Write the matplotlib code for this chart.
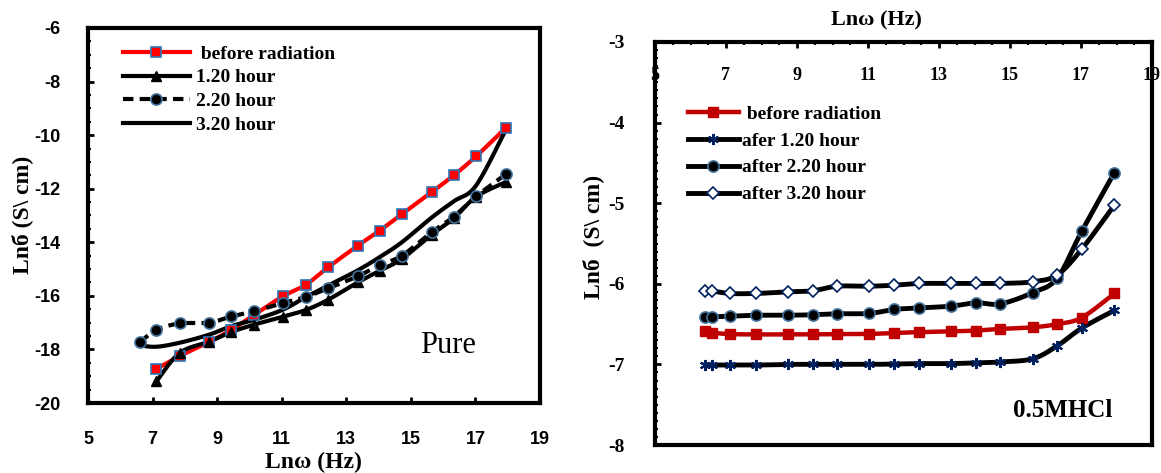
import numpy as np
import matplotlib
matplotlib.use("Agg")
import matplotlib.pyplot as plt
from matplotlib.lines import Line2D

plt.rcParams["axes.unicode_minus"] = False

# ---------------- data ----------------
ln_w = [6.42, 6.61, 7.12, 7.84, 8.75, 9.44, 10.13, 11.03, 11.74, 12.43,
        13.35, 14.04, 14.72, 15.64, 16.33, 17.02, 17.94]

# Left panel (Pure)
pure_before = [-18.72, -18.25, -17.72, -17.27, -16.72, -16.02, -15.59, -14.94,
               -14.13, -13.56, -12.95, -12.13, -11.50, -10.79, -9.73]      # from 7.12
pure_h120 = [-19.19, -18.13, -17.71, -17.35, -17.08, -16.78, -16.53, -16.15,
             -15.50, -15.06, -14.62, -13.72, -13.10, -12.30, -11.75]       # from 7.12
pure_h220 = [-17.73, -17.27, -17.03, -17.00, -16.77, -16.58, -16.27, -16.04,
             -15.72, -15.27, -14.85, -14.50, -13.63, -13.04, -12.29, -11.46]  # from 6.61
pure_h320 = [-17.85, -17.90, -17.75, -17.45, -17.13, -16.90, -16.52, -16.05,
             -15.62, -15.05, -14.55, -14.00, -13.08, -12.47, -11.88, -9.80]   # from 6.61

# Right panel (0.5M HCl)
hcl_before = [-6.587, -6.607, -6.624, -6.628, -6.628, -6.628, -6.624, -6.622, -6.610,
              -6.600, -6.590, -6.580, -6.560, -6.540, -6.500, -6.420, -6.120]
hcl_h120 = [-7.008, -7.008, -7.008, -7.008, -7.000, -7.000, -7.000, -7.000, -6.996,
            -6.990, -6.990, -6.980, -6.970, -6.930, -6.770, -6.550, -6.330]
hcl_h220 = [-6.410, -6.410, -6.400, -6.390, -6.390, -6.384, -6.372, -6.368, -6.318,
            -6.300, -6.277, -6.235, -6.250, -6.110, -5.930, -5.350, -4.620]
hcl_h320 = [-6.090, -6.090, -6.120, -6.120, -6.100, -6.087, -6.030, -6.030, -6.017,
            -5.996, -5.996, -5.996, -5.996, -5.975, -5.890, -5.570, -5.025]

left_xticks = [5, 7, 9, 11, 13, 15, 17, 19]
left_yticks = [-20, -18, -16, -14, -12, -10, -8, -6]
right_xticks = [5, 7, 9, 11, 13, 15, 17, 19]
right_yticks = [-8, -7, -6, -5, -4, -3]

labels_left = [" before radiation", "1.20 hour", "2.20 hour", "3.20 hour"]
labels_right = [" before radiation", "afer 1.20 hour", "after 2.20 hour", "after 3.20 hour"]

SERIF = "Liberation Serif"
SANS = "Liberation Sans"


def smooth(x, y, n=16):
    """Catmull-Rom curve through the points (Excel-like smoothed line)."""
    p = np.column_stack([x, y]).astype(float)
    p = np.vstack([p[0], p, p[-1]])
    out = []
    t = np.linspace(0, 1, n, endpoint=False)[:, None]
    for i in range(1, len(p) - 2):
        p0, p1, p2, p3 = p[i - 1], p[i], p[i + 1], p[i + 2]
        c = 0.5 * ((2 * p1) + (-p0 + p2) * t + (2 * p0 - 5 * p1 + 4 * p2 - p3) * t ** 2
                   + (-p0 + 3 * p1 - 3 * p2 + p3) * t ** 3)
        out.append(c)
    out.append(p[-2][None, :])
    out = np.vstack(out)
    return out[:, 0], out[:, 1]


fig = plt.figure(figsize=(11.61, 4.73), dpi=100)

# ---------------- left panel ----------------
axL = fig.add_axes([88 / 1161, 1 - 403 / 473, 452 / 1161, 375 / 473])
xL2 = ln_w[1:]
xL3 = ln_w[2:]

sx, sy = smooth(xL3, pure_before)
axL.plot(sx, sy, color="#ff0000", lw=3, zorder=3)
axL.plot(xL3, pure_before, ls="none", marker="s", ms=6.5, mfc="#ff0000",
         mec="#2e75b6", mew=1.2, zorder=4)

sx, sy = smooth(xL3, pure_h120)
axL.plot(sx, sy, color="black", lw=3, zorder=3)
axL.plot(xL3, pure_h120, ls="none", marker="^", ms=7.5, color="black", zorder=4)

sx, sy = smooth(xL2, pure_h220)
axL.plot(sx, sy, color="black", lw=3, ls=(0, (2.5, 1.5)), zorder=3)
axL.plot(xL2, pure_h220, ls="none", marker="o", ms=8, mfc="black",
         mec="#41719c", mew=1.2, zorder=4)

sx, sy = smooth(xL2, pure_h320)
axL.plot(sx, sy, color="black", lw=3, zorder=3)

axL.set_xlim(5, 19)
axL.set_ylim(-20, -6)
axL.set_xticks(left_xticks)
axL.set_yticks(left_yticks)
axL.set_yticks(np.arange(-20, -5.9, 0.5), minor=True)
axL.tick_params(axis="both", which="major", direction="in", length=4, width=2,
                labelsize=13, pad=20)
axL.tick_params(axis="x", pad=20)
axL.tick_params(axis="y", which="minor", direction="in", length=2, width=1.5)
axL.tick_params(axis="x", which="minor", bottom=False)
for lab in axL.get_xticklabels() + axL.get_yticklabels():
    lab.set_fontfamily(SANS)
    lab.set_fontweight("bold")
for s in axL.spines.values():
    s.set_linewidth(3)

hL = [Line2D([], [], color="#ff0000", lw=3, marker="s", ms=6.5, mfc="#ff0000",
             mec="#2e75b6", mew=1.2),
      Line2D([], [], color="black", lw=3, marker="^", ms=7.5),
      Line2D([], [], color="black", lw=3, ls=(0, (2.5, 1.5)), marker="o", ms=8,
             mfc="black", mec="#41719c", mew=1.2),
      Line2D([], [], color="black", lw=3)]
legL = axL.legend(hL, labels_left, loc="upper left",
                  bbox_to_anchor=((122.7 - 88) / 452, (403 - 45) / 375),
                  frameon=False, borderpad=0, borderaxespad=0, handlelength=3.45,
                  handletextpad=0.3, labelspacing=0.32,
                  prop={"family": SERIF, "weight": "bold", "size": 14})

fig.text(448 / 1161, 1 - 345 / 473, "Pure", ha="center", va="center",
         family=SERIF, fontsize=22)

fig.text(313 / 1161, 1 - 462 / 473, "Lnω (Hz)", ha="center", va="center",
         family=SERIF, weight="bold", fontsize=17)
fig.text(22 / 1161, 1 - 215 / 473, "Lnб (S\\ cm)", ha="center", va="center",
         rotation=90, family=SERIF, weight="bold", fontsize=17)

# ---------------- right panel ----------------
axR = fig.add_axes([655 / 1161, 1 - 445 / 473, 497 / 1161, 403 / 473])

sx, sy = smooth(ln_w, hcl_before)
axR.plot(sx, sy, color="#c00000", lw=3.2, zorder=3)
axR.plot(ln_w, hcl_before, ls="none", marker="s", ms=6.5, color="#c00000", zorder=4)

sx, sy = smooth(ln_w, hcl_h120)
axR.plot(sx, sy, color="black", lw=3.5, zorder=3)
axR.plot(ln_w, hcl_h120, ls="none", marker=(6, 2, 0), ms=8, color="#002060",
         mew=1.5, zorder=4)

sx, sy = smooth(ln_w, hcl_h220)
axR.plot(sx, sy, color="black", lw=3.5, zorder=3)
axR.plot(ln_w, hcl_h220, ls="none", marker="o", ms=8, mfc="black",
         mec="#41719c", mew=1.2, zorder=4)

sx, sy = smooth(ln_w, hcl_h320)
axR.plot(sx, sy, color="black", lw=3.5, zorder=3)
axR.plot(ln_w, hcl_h320, ls="none", marker="D", ms=6, mfc="white",
         mec="#002060", mew=1.2, zorder=4)

axR.set_xlim(5, 19)
axR.set_ylim(-8, -3)
axR.set_xticks(right_xticks)
axR.set_yticks(right_yticks)
axR.set_yticks(np.arange(-8, -2.95, 0.1), minor=True)
axR.set_xticks(np.arange(5, 19.01, 0.5), minor=True)
axR.xaxis.tick_top()
axR.tick_params(axis="x", which="major", direction="in", length=4, width=2,
                labelsize=13, pad=-30)
axR.tick_params(axis="x", which="minor", direction="in", length=2, width=1.5)
axR.tick_params(axis="y", which="major", direction="in", length=4, width=2,
                labelsize=14, pad=22)
axR.tick_params(axis="y", which="minor", direction="in", length=2, width=1.5)
for lab in axR.get_xticklabels() + axR.get_yticklabels():
    lab.set_fontfamily(SERIF)
    lab.set_fontweight("bold")
for s in axR.spines.values():
    s.set_linewidth(3)

hR = [Line2D([], [], color="#c00000", lw=3.2, marker="s", ms=6.5),
      Line2D([], [], color="black", lw=3.5, marker=(6, 2, 0), ms=8, mec="#002060", mew=1.5),
      Line2D([], [], color="black", lw=3.5, marker="o", ms=8, mfc="black",
             mec="#41719c", mew=1.2),
      Line2D([], [], color="black", lw=3.5, marker="D", ms=6, mfc="white",
             mec="#002060", mew=1.2)]
legR = axR.legend(hR, labels_right, loc="upper left",
                  bbox_to_anchor=((688 - 655) / 497, (445 - 105) / 403),
                  frameon=False, borderpad=0, borderaxespad=0, handlelength=2.6,
                  handletextpad=0.2, labelspacing=0.48,
                  prop={"family": SERIF, "weight": "bold", "size": 14})

fig.text(1063 / 1161, 1 - 410 / 473, "0.5MHCl", ha="center", va="center",
         family=SERIF, weight="bold", fontsize=18)
fig.text(876 / 1161, 1 - 20 / 473, "Lnω (Hz)", ha="center", va="center",
         family=SERIF, weight="bold", fontsize=16)
fig.text(593 / 1161, 1 - 237 / 473, "Lnб  (S\\ cm)", ha="center", va="center",
         rotation=90, family=SERIF, weight="bold", fontsize=17)

fig.savefig("out.png", dpi=100)
